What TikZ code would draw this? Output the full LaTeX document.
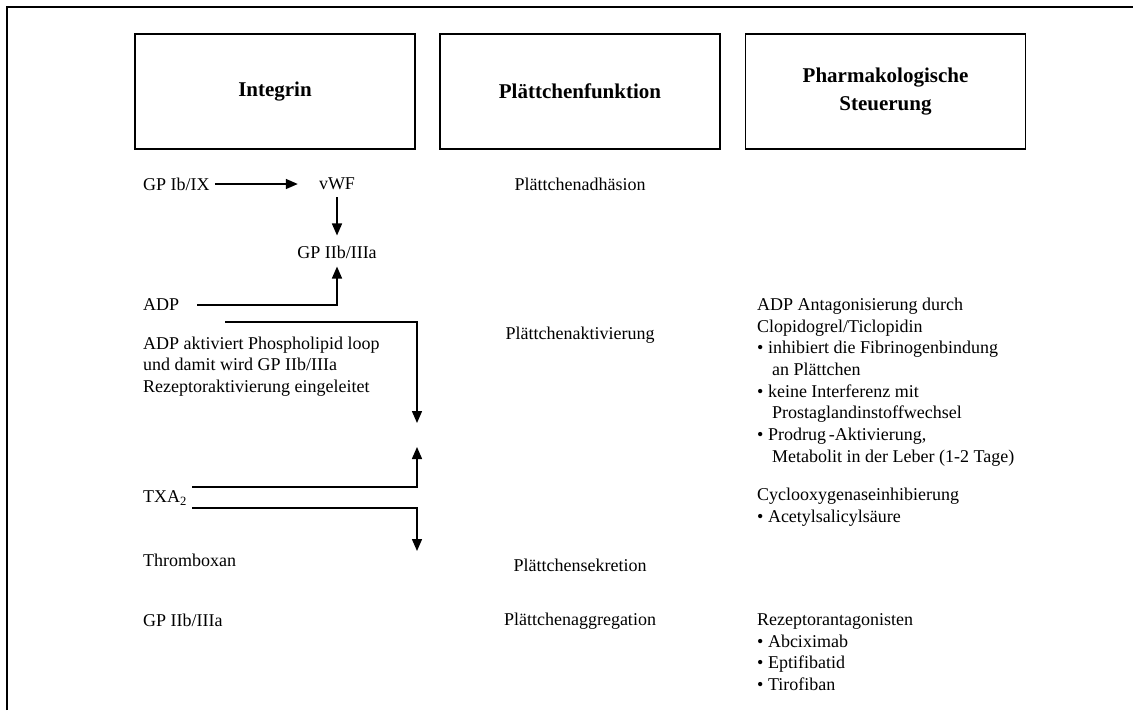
\documentclass[tikz,border=0pt]{standalone}
\usepackage{fontspec}
\setmainfont{Liberation Serif}
\usepackage{tikz}
\usetikzlibrary{arrows.meta, positioning, calc}

\begin{document}
\begin{tikzpicture}[x=1pt, y=-1pt,
    head/.style={draw=black, line width=1.5pt, minimum width=280pt, minimum height=115pt, align=center, font=\fontsize{21}{28}\selectfont\bfseries},
    txt/.style={inner sep=0pt, anchor=west, align=left, font=\fontsize{18}{21.7}\selectfont},
    mid/.style={inner sep=0pt, font=\fontsize{18}{21.7}\selectfont},
    arr/.style={-{Triangle[length=12pt, width=10pt]}, line width=1.5pt}
]
\useasboundingbox (0,0) rectangle (1133,710);
\draw[line width=2pt] (7,710) -- (7,7) -- (1133,7);
% column heads
\node[head] (hint) at (275,91.5) {Integrin};
\node[head] (hfun) at (580,91.5) {Plättchenfunktion};
\node[head] (hpha) at (885.5,91.5) {Pharmakologische\\Steuerung};
% integrin column
\node[txt] (gpib) at (143,184) {GP Ib/IX};
\node[mid] (vwf) at (337,184) {vWF};
\node[mid] (gpiib) at (337,252) {GP IIb/IIIa};
\node[txt] (adp) at (143,305) {ADP};
\node[txt] (adptext) at (143,366.5) {ADP aktiviert Phospholipid loop\\und damit wird GP IIb/IIIa\\Rezeptoraktivierung eingeleitet};
\node[txt] (txa) at (143,498) {TXA\textsubscript{2}};
\node[txt] (thrombox) at (143,560) {Thromboxan};
\node[txt] (gpiib2) at (143,620) {GP IIb/IIIa};
\coordinate (loopstart) at (225,322);
\coordinate (acttip) at (417,423);
\coordinate (txaup) at (192,487);
\coordinate (uptip) at (417,447);
\coordinate (txadown) at (192,508);
\coordinate (sektip) at (417,551);
\draw[arr, shorten <=5pt, shorten >=21pt] (gpib) -- (vwf);
\draw[arr, shorten <=7pt, shorten >=10pt] (vwf.south) -- (vwf |- gpiib.north);
\draw[arr, shorten >=8pt] ([xshift=18pt]adp.east) -| (gpiib.south);
\draw[arr] (loopstart) -| (acttip);
\draw[arr] (txaup) -| (uptip);
\draw[arr] (txadown) -| (sektip);
% function column
\node[mid] (adh) at (580,184) {Plättchenadhäsion};
\node[mid] (akt) at (580,335) {Plättchenaktivierung};
\node[mid] (sek) at (580,565) {Plättchensekretion};
\node[mid] (agg) at (580,621) {Plättchenaggregation};
% pharmacology column
\node[txt] (adpant) at (757,382) {ADP Antagonisierung durch\\Clopidogrel/Ticlopidin\\\textbullet\ inhibiert die Fibrinogenbindung\\\hspace*{15pt}an Plättchen\\\textbullet\ keine Interferenz mit\\\hspace*{15pt}Prostaglandinstoffwechsel\\\textbullet\ Prodrug\,-Aktivierung,\\\hspace*{15pt}Metabolit in der Leber (1-2 Tage)};
\node[txt] (cox) at (757,507.5) {Cyclooxygenaseinhibierung\\\textbullet\ Acetylsalicylsäure};
\node[txt] (rez) at (757,652) {Rezeptorantagonisten\\\textbullet\ Abciximab\\\textbullet\ Eptifibatid\\\textbullet\ Tirofiban};
\end{tikzpicture}
\end{document}
